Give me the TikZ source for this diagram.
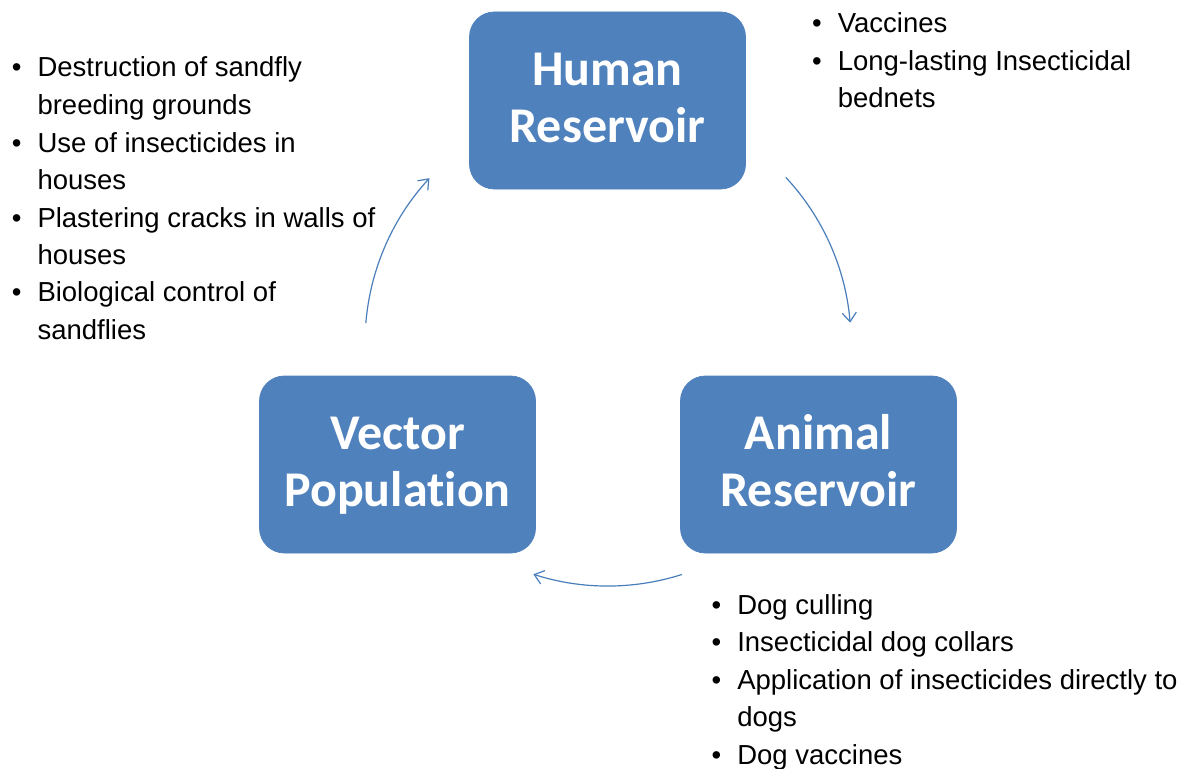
\documentclass[tikz,border=0pt]{standalone}
\usepackage{fontspec}
\setmainfont{Liberation Sans}
\newfontfamily\boxfont[Ligatures=NoCommon]{Carlito}
\usetikzlibrary{arrows.meta,calc}
\definecolor{boxblue}{HTML}{4F81BD}
\definecolor{arrowblue}{HTML}{4A7EBB}
\begin{document}
\begin{tikzpicture}[x=1pt,y=-1pt,
  box/.style={draw=boxblue,fill=boxblue,rounded corners=25pt,minimum width=276pt,minimum height=177pt,inner sep=0pt,line width=0.8pt},
  boxtext/.style={text=white,inner sep=0pt,font=\boxfont\bfseries\fontsize{50}{57}\selectfont},
  bullets/.style={inner sep=0pt,anchor=base west,font=\fontsize{27.5}{37.5}\selectfont},
  flow/.style={draw=arrowblue,line width=1.2pt,-{Straight Barb[length=9pt,width=14pt]}}]
\useasboundingbox (0,0) rectangle (1180,768);
% boxes
\node[box] (h) at (607.5,100.5) {};
\node[box] (v) at (397.5,464.5) {};
\node[box] (a) at (818.5,464.5) {};
\node[boxtext,anchor=base] (ht) at ($(h.center)+(0,41.5)$) {\begin{tabular}[b]{@{}c@{}}Human\\Reservoir\end{tabular}};
\node[boxtext,anchor=base] (vt) at ($(v.center)+(0,42)$) {\begin{tabular}[b]{@{}c@{}}Vector\\Population\end{tabular}};
\node[boxtext,anchor=base] (at) at ($(a.center)+(0,42)$) {\begin{tabular}[b]{@{}c@{}}Animal\\Reservoir\end{tabular}};
% cycle arrows
\coordinate (c) at (608,343);
\coordinate (s1) at ($(c)+(-43:243)$);
\coordinate (s2) at ($(c)+(72.3:243)$);
\coordinate (s3) at ($(c)+(184.7:243)$);
\draw[flow] (s1) arc[start angle=-43,end angle=-4.8,radius=243];
\draw[flow] (s2) arc[start angle=72.3,end angle=107.9,radius=243];
\draw[flow] (s3) arc[start angle=184.7,end angle=222.7,radius=243];
% bullet lists
\node[bullets] (lv) at (11.7,77) {\begin{tabular}[t]{@{}l@{\hspace{16pt}}l@{}}
\textbullet & Destruction of sandfly\\
 & breeding grounds\\
\textbullet & Use of insecticides in\\
 & houses\\
\textbullet & Plastering cracks in walls of\\
 & houses\\
\textbullet & Biological control of\\
 & sandflies
\end{tabular}};
\node[bullets] (lh) at (812,33) {\begin{tabular}[t]{@{}l@{\hspace{16pt}}l@{}}
\textbullet & Vaccines\\
\textbullet & Long-lasting Insecticidal\\
 & bednets
\end{tabular}};
\node[bullets] (la) at (711.5,614) {\begin{tabular}[t]{@{}l@{\hspace{16pt}}l@{}}
\textbullet & Dog culling\\
\textbullet & Insecticidal dog collars\\
\textbullet & Application of insecticides directly to\\
 & dogs\\
\textbullet & Dog vaccines
\end{tabular}};
\end{tikzpicture}
\end{document}
